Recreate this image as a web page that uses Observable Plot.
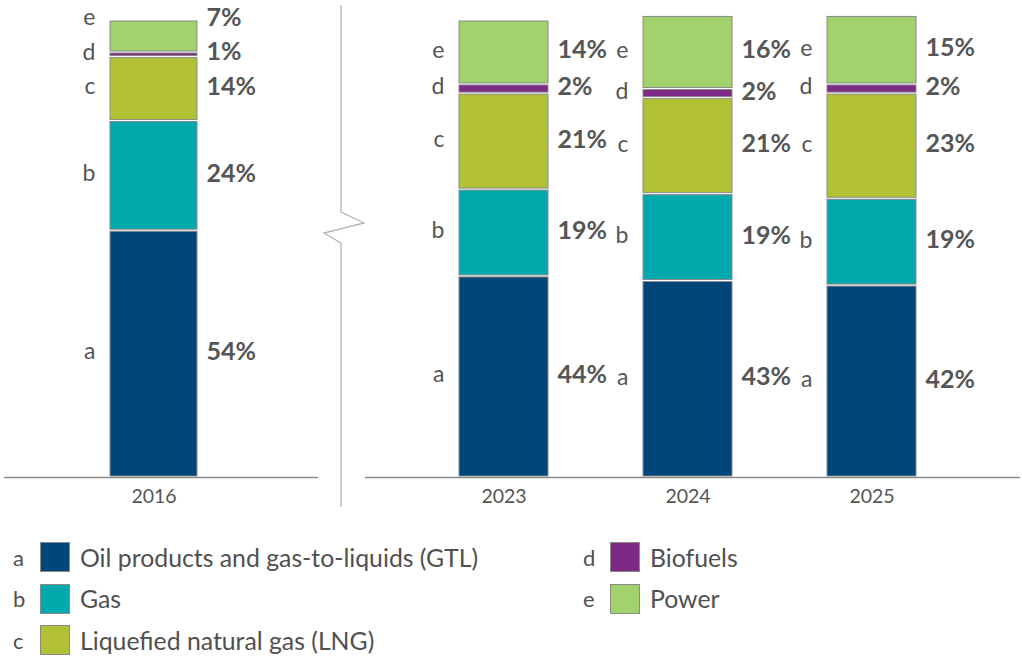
<!DOCTYPE html>
<html><head><meta charset="utf-8">
<script src="https://cdn.jsdelivr.net/npm/d3@7"></script>
<script src="https://cdn.jsdelivr.net/npm/@observablehq/plot@0.6"></script>
<style>
body{margin:0;background:#fff;font-family:Lato,"Noto Sans",sans-serif;}
#wrap{position:relative;width:1022px;height:667px;overflow:hidden;}
#charts{position:absolute;left:0;top:0;display:flex;}
.li{position:absolute;height:30px;display:flex;align-items:center;color:#505050;font-size:24.8px;white-space:nowrap;}
.li .k{width:27px;font-size:22px;}
.li .sw{width:28px;height:28px;border:1px solid #8a8a8a;margin-right:10px;}
</style></head>
<body><div id="wrap"><div id="charts"></div><div id="legend"></div></div>
<script>
const keys = ["a","b","c","d","e"];
const names = ["Oil products and gas-to-liquids (GTL)","Gas","Liquefied natural gas (LNG)","Biofuels","Power"];
const colors = ["#00467b","#00a9ac","#b1c133","#7e2a84","#a3d16e"];
const yearsLeft = ["2016"];
const yearsRight = ["2023","2024","2025"];
const v2016 = [54,24,14,1,7];
const v2023 = [44,19,21,2,14];
const v2024 = [43,19,21,2,16];
const v2025 = [42,19,23,2,15];

const MINGAP = 7.6;

function panel(years, series, o) {
  const data = [];
  const labels = [];
  years.forEach((yr, i) => {
    let cum = 0, prev = -Infinity;
    series[i].forEach((v, j) => {
      data.push({year: yr, key: keys[j], value: v});
      const mid = cum + v / 2;
      cum += v;
      const ly = Math.max(mid, prev + MINGAP);
      prev = ly;
      labels.push({year: yr, key: keys[j], value: v, ly});
    });
  });
  return Plot.plot({
    width: o.width, height: 520,
    marginLeft: o.ml, marginRight: o.mr, marginTop: 0, marginBottom: 43,
    x: {domain: years, range: o.xr, paddingInner: o.pi, paddingOuter: 0, label: null},
    y: {domain: [0, 100], range: [477, 20], axis: null},
    color: {domain: keys, range: colors},
    style: {fontFamily: "Lato, 'Noto Sans', sans-serif", overflow: "visible", background: "transparent", color: "#555"},
    marks: [
      Plot.barY(data, {x: "year", y: "value", fill: "key", stroke: "#8a8a8a", strokeWidth: 1, insetTop: 1, insetBottom: 1}),
      Plot.ruleY([0], {stroke: "#8c8c8c", strokeWidth: 1.5}),
      Plot.axisX({tickSize: 0, tickPadding: 12, fontSize: 19.5, fill: "#555"}),
      Plot.text(labels, {x: "year", y: "ly", text: d => d.value + "%", dx: o.bw / 2 + 9, dy: -2, textAnchor: "start", fontSize: 25, fontWeight: "bold", fill: "#555"}),
      Plot.text(labels, {x: "year", y: "ly", text: "key", dx: -(o.bw / 2 + 15), dy: -2, textAnchor: "end", fontSize: 23, fill: "#555"}),
      ...(o.extra || [])
    ]
  });
}

const breakMark = (index, scales, values, dims) => {
  const g = d3.create("svg:g");
  const x = dims.width - 24, b = dims.height - 13;
  g.append("path")
    .attr("d", `M${x},5V212L${x + 23},223L${x - 17},233L${x},243V${b}`)
    .attr("fill", "none").attr("stroke", "#b5b5b5").attr("stroke-width", 1.3);
  return g.node();
};

const left = panel(yearsLeft, [v2016], {width: 365, ml: 4, mr: 47, xr: [110, 197], pi: 0, bw: 87, extra: [breakMark]});
const right = panel(yearsRight, [v2023, v2024, v2025], {width: 657, ml: 0, mr: 2, xr: [93, 551], pi: 1 - 89 / 184.5, bw: 89});
document.getElementById("charts").append(left, right);

const legend = document.getElementById("legend");
const pos = [[13, 542], [13, 583.5], [13, 625], [583, 542], [583, 583.5]];
keys.forEach((k, i) => {
  const d = document.createElement("div");
  d.className = "li";
  d.style.left = pos[i][0] + "px";
  d.style.top = pos[i][1] + "px";
  d.innerHTML = `<span class="k">${k}</span><span class="sw" style="background:${colors[i]}"></span><span>${names[i]}</span>`;
  legend.append(d);
});
</script></body></html>
